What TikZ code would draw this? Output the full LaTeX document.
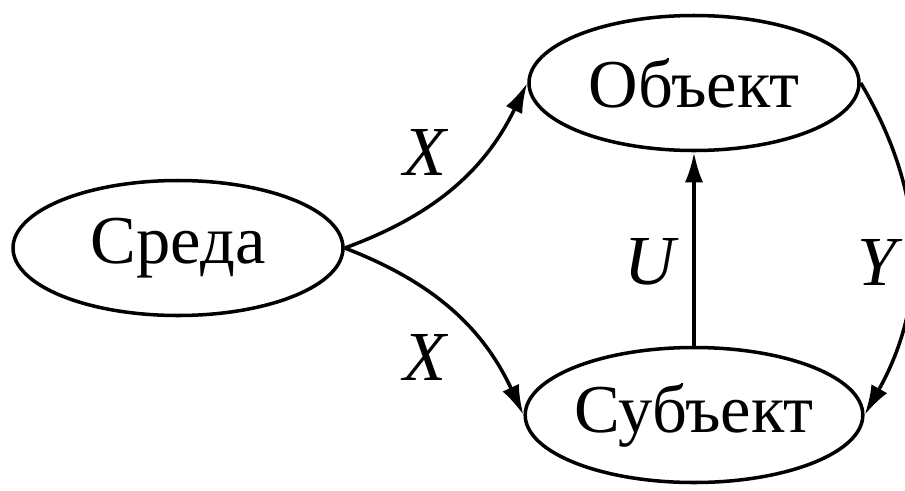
\documentclass[tikz,border=0pt]{standalone}
\usepackage{fontspec}
\setmainfont{Liberation Serif}
\usetikzlibrary{arrows.meta,shapes.geometric}

\begin{document}
\begin{tikzpicture}[scale=1,
    ell/.style={draw, ellipse, line width=2pt, minimum width=6.6cm, minimum height=2.7cm, inner sep=0pt, font=\fontsize{39}{46}\selectfont},
    lbl/.style={font=\fontsize{40}{46}\selectfont\itshape},
    conn/.style={line width=2pt, -{Latex[length=6mm,width=3.6mm]}}]
            \useasboundingbox (0,0) rectangle (18.1,9.8);

            \node[ell] (sreda) at (3.56,4.84) {Среда};
            \node[ell] (obj) at (13.88,8.14) {Объект};
            \node[ell] (subj) at (13.88,1.5) {Субъект};

            \draw[conn] (sreda.east) to[bend right=22] (obj.west);
            \draw[conn] (sreda.east) to[bend left=22] (subj.west);
            \draw[conn] (subj.north) -- (obj.north |- obj.south);
            \draw[conn] (obj.east) to[bend left=30] (subj.east);

            \node[lbl] (x1) at (8.5,6.75) {X};
            \node[lbl] (x2) at (8.5,2.65) {X};
            \node[lbl] (u) at (13.0,4.56) {U};
            \node[lbl] (y) at (17.55,4.56) {Y};
        \end{tikzpicture}
\end{document}
